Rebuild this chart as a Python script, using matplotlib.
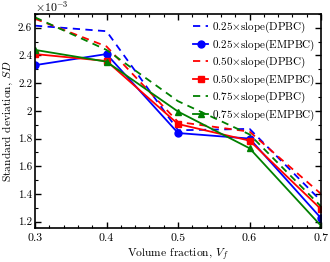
import matplotlib
matplotlib.use('Agg')
import matplotlib.pyplot as plt
from matplotlib.ticker import MultipleLocator, FuncFormatter

plt.rcParams['font.family'] = ['cmr10', 'DejaVu Serif']
plt.rcParams['mathtext.fontset'] = 'cm'
plt.rcParams['axes.formatter.use_mathtext'] = True

# Volume fraction and standard deviation (x 1e-3)
vf = [0.3, 0.4, 0.5, 0.6, 0.7]
sd_025_dpbc = [2.615, 2.575, 1.86, 1.87, 1.35]
sd_025_empbc = [2.33, 2.41, 1.84, 1.80, 1.225]
sd_050_dpbc = [2.665, 2.465, 1.92, 1.85, 1.40]
sd_050_empbc = [2.41, 2.36, 1.905, 1.785, 1.29]
sd_075_dpbc = [2.675, 2.44, 2.07, 1.83, 1.31]
sd_075_empbc = [2.44, 2.355, 1.995, 1.73, 1.17]

fig = plt.figure(figsize=(3.3, 2.62), dpi=100)
ax = fig.add_axes([0.106, 0.13, 0.867, 0.817])

lw = 1.3
ax.plot(vf, sd_025_dpbc, '--', color='blue', lw=lw, dashes=(4, 3), label=r'0.25$\times$slope(DPBC)')
ax.plot(vf, sd_025_empbc, '-o', color='blue', lw=lw, ms=5, label=r'0.25$\times$slope(EMPBC)')
ax.plot(vf, sd_050_dpbc, '--', color='red', lw=lw, dashes=(4, 3), label=r'0.50$\times$slope(DPBC)')
ax.plot(vf, sd_050_empbc, '-s', color='red', lw=lw, ms=4.5, label=r'0.50$\times$slope(EMPBC)')
ax.plot(vf, sd_075_dpbc, '--', color='green', lw=lw, dashes=(4, 3), label=r'0.75$\times$slope(DPBC)')
ax.plot(vf, sd_075_empbc, '-^', color='green', lw=lw, ms=5, label=r'0.75$\times$slope(EMPBC)')

ax.set_xlim(0.3, 0.7)
ax.set_ylim(1.155, 2.7)
ax.xaxis.set_major_locator(MultipleLocator(0.1))
ax.xaxis.set_minor_locator(MultipleLocator(0.02))
ax.yaxis.set_major_locator(MultipleLocator(0.2))
ax.yaxis.set_minor_locator(MultipleLocator(0.1))
ax.xaxis.set_major_formatter(FuncFormatter(lambda v, p: f'{v:g}'))
ax.yaxis.set_major_formatter(FuncFormatter(lambda v, p: f'{v:g}'))
ax.tick_params(which='both', direction='in', top=True, right=True, labelsize=8.5)
ax.tick_params(which='major', length=4, width=1)
ax.tick_params(which='minor', length=2.5, width=0.8)
ax.tick_params(axis='x', pad=4)
ax.tick_params(axis='y', pad=2, labelsize=8)
for s in ax.spines.values():
    s.set_linewidth(1.2)

ax.set_xlabel(r'Volume fraction, $V_f$', fontsize=8.3)
ax.set_ylabel(r'Standard deviation, $SD$', fontsize=8.3)
ax.xaxis.set_label_coords(0.5, -0.085)
ax.yaxis.set_label_coords(-0.07, 0.5)
ax.text(0.0, 1.0, r'$\times10^{-3}$', transform=ax.transAxes, fontsize=8.5, ha='left', va='bottom')

ax.legend(loc='upper right', frameon=False, fontsize=8, handlelength=1.35,
          handletextpad=0.3, labelspacing=0.2, borderaxespad=0.15)

fig.savefig('out.png', dpi=100)
